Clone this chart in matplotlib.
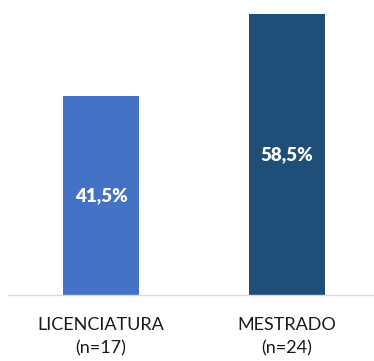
import matplotlib.pyplot as plt

categories = ["LICENCIATURA", "MESTRADO"]
sample_sizes = [17, 24]
percentages = [41.5, 58.5]
bar_colors = ["#4472C4", "#1F4E79"]

fig = plt.figure(figsize=(3.74, 3.61), dpi=100)
ax = fig.add_axes([8 / 374, 66 / 361, 366 / 374, 295 / 361])

x = list(range(len(categories)))
bars = ax.bar(x, percentages, width=0.41, color=bar_colors)

for xi, val in zip(x, percentages):
    ax.text(xi, val / 2, f"{val:.1f}%".replace(".", ","), ha="center", va="center",
            color="white", fontsize=13.5, fontweight="heavy", family="Lato")

ax.set_xlim(-0.5, 1.468)
ax.set_ylim(0, 61.4)
ax.set_xticks(x)
ax.set_xticklabels([f"{c}\n(n={n})" for c, n in zip(categories, sample_sizes)],
                   fontsize=13, family="Lato", color="#1a1a1a", linespacing=1.55)
ax.tick_params(axis="x", length=0, pad=16)
ax.set_yticks([])
for side in ["top", "left", "right"]:
    ax.spines[side].set_visible(False)
ax.spines["bottom"].set_color("#D9D9D9")
ax.spines["bottom"].set_linewidth(1)

fig.savefig("out.png", dpi=100)
